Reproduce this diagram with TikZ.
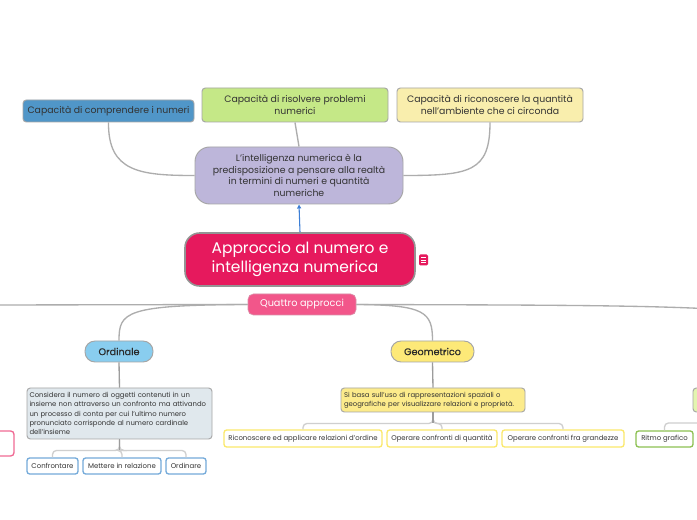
\documentclass[tikz,border=0pt]{standalone}
\usepackage{fontspec}
\setmainfont{Poppins}
\newfontfamily\medfont{Poppins}[FakeBold=0.6]
\usetikzlibrary{calc,arrows.meta}
\definecolor{txt}{HTML}{333333}
\definecolor{bord}{HTML}{A5A5A5}
\definecolor{conng}{HTML}{ADADAD}
\definecolor{brk}{HTML}{CFCFCF}
\definecolor{cA}{HTML}{5096C8}
\definecolor{cB}{HTML}{C5E887}
\definecolor{cC}{HTML}{F9EEAD}
\definecolor{cD}{HTML}{BDB6DA}
\definecolor{cMain}{HTML}{E6195D}
\definecolor{cQ}{HTML}{F2568A}
\definecolor{cOrd}{HTML}{89CDEF}
\definecolor{cOrdD}{HTML}{E0E8ED}
\definecolor{cGeo}{HTML}{FDE978}
\definecolor{cGeoD}{HTML}{FCEB8B}
\definecolor{bBlue}{HTML}{74AADA}
\definecolor{bYel}{HTML}{FBE86A}
\definecolor{bGreen}{HTML}{8DC152}
\definecolor{bPink}{HTML}{F06A94}
\definecolor{cGreenD}{HTML}{E3F5B0}
\definecolor{arr}{HTML}{3C7FD6}
\begin{document}
\begin{tikzpicture}[x=0.75pt,y=-0.75pt,
  box/.style 2 args={draw=bord, line width=0.7pt, rounded corners=2.5pt,
    minimum width=#1*0.75pt, minimum height=#2*0.75pt, inner sep=0pt, text=txt},
  topfont/.style={font=\fontsize{7}{9}\selectfont},
  smallfont/.style={font=\fontsize{5.15}{7}\selectfont},
  conn/.style={draw=conng, line width=1pt},
  stem/.style={draw=conng!90!black, line width=1pt},
  bracket/.style={draw=brk, line width=1pt, rounded corners=3pt},
  child/.style 2 args={draw=#2, fill=white, line width=1pt, rounded corners=2pt,
    minimum width=#1*0.75pt, minimum height=16*0.75pt, inner sep=0pt, text=txt,
    font=\fontsize{5.2}{7}\selectfont},
  pill/.style n args={3}{draw=bord, line width=0.7pt, fill=#3, rounded corners=7.5pt,
    minimum width=#1*0.75pt, minimum height=#2*0.75pt, inner sep=0pt, text=txt!80!black,
    font=\medfont\fontsize{7.2}{9}\selectfont}
]
\useasboundingbox (0,0) rectangle (697,520);
\clip (0,0) rectangle (697,520);
\fill[white] (0,0) rectangle (697,520);

% top nodes
\node[box={171}{22}, fill=cA, topfont] (A) at (108.5,111) {Capacità di comprendere i numeri};
\node[box={186}{34}, fill=cB, topfont, align=center] (B) at (295,105) {Capacità di risolvere problemi\\numerici};
\node[box={186}{34}, fill=cC, topfont, align=center] (C) at (490,105) {Capacità di riconoscere la quantità\\nell'ambiente che ci circonda};
\node[box={208}{57}, fill=cD, rounded corners=11pt, align=center,
  font=\fontsize{7}{8.6}\selectfont] (D) at (299,175.5)
  {L'intelligenza numerica è la\\predisposizione a pensare alla realtà\\in termini di numeri e quantità\\numeriche};

\draw[conn] (A.south) .. controls (108,172) and (140,175.5) .. (D.west);
\draw[conn] (B.south) -- (D.north);
\draw[conn] (C.south) .. controls (490,172) and (470,175.5) .. (D.east);

% main
\node[box={230}{53}, fill=cMain, draw=bord!90!black, line width=1.2pt, rounded corners=11pt,
  text=white, align=left, font=\fontsize{11.6}{14.5}\selectfont] (M) at (300,259.5)
  {Approccio al numero e\\intelligenza numerica};
\draw[arr, line width=0.8pt, -{Triangle[length=3pt,width=3pt]}] (M.north) -- (D.south);

\node[fill=cMain, rounded corners=1pt, minimum width=9*0.75pt, minimum height=11*0.75pt, inner sep=0pt] (icon) at (423.5,260) {};
\foreach \dy in {-2.5,0,2.5}
  \draw[white, line width=0.6pt] ($(icon.center)+(-2.5,\dy)$) -- ++(5,0);

% Quattro approcci
\node[draw=cQ!80!black!60, line width=0.5pt, fill=cQ, rounded corners=4pt, minimum width=108*0.75pt,
  minimum height=21*0.75pt, inner sep=0pt, text=white, font=\fontsize{7.3}{9}\selectfont] (Q) at (302,304.5) {Quattro approcci};
\coordinate (Lend) at (-5,305);
\coordinate (Rend) at (712,309);
\draw[conn] (Q.west) -- (Lend);
\draw[conn] (Q.east) .. controls (520,305) and (640,305) .. (Rend);

% Ordinale
\node[pill={68}{21}{cOrd}] (O) at (119,351.5) {Ordinale};
\draw[conn] (Q.west) .. controls (125,305) and (119,312) .. (O.north);
\node[box={185}{51}, fill=cOrdD, smallfont, text width=180*0.75pt, align=left] (OD) at (119.5,413.5)
  {Considera il numero di oggetti contenuti in un\\insieme non attraverso un confronto ma attivando\\un processo di conta per cui l'ultimo numero\\pronunciato corrisponde al numero cardinale\\dell'insieme};
\draw[stem] (O.south) -- (OD.north);
\node[child={51}{bBlue}] (c1) at (52.5,466) {Confrontare};
\node[child={78}{bBlue}] (c2) at (122,466) {Mettere in relazione};
\node[child={40}{bBlue}] (c3) at (186,466) {Ordinare};
\draw[bracket] (OD.south) -- ++(0,11) -| (c1.north);
\draw[bracket] (OD.south) -- ++(0,11) -| (c3.north);
\draw[bracket] (OD.south) -- ++(0,11) -| (c2.north);
\draw[stem] (OD.south) -- ++(0,11);

% partial pink (left)
\node[draw=bPink, fill=white, line width=1pt, rounded corners=2.5pt, minimum width=34*0.75pt,
  minimum height=25*0.75pt, inner sep=0pt] (P) at (-3,443.5) {};

% Geometrico
\node[pill={83}{21}{cGeo}] (G) at (432.5,351.5) {Geometrico};
\draw[conn] (Q.east) .. controls (425,305) and (432.5,312) .. (G.north);
\node[box={184}{24}, fill=cGeoD, smallfont, text width=178*0.75pt, align=left] (GD) at (433,400)
  {Si basa sull'uso di rappresentazioni spaziali o\\geografiche per visualizzare relazioni e proprietà.};
\draw[stem] (G.south) -- (GD.north);
\node[child={158}{bYel}, minimum height=17*0.75pt] (g1) at (303,438.5) {Riconoscere ed applicare relazioni d'ordine};
\node[child={110}{bYel}, minimum height=17*0.75pt] (g2) at (442,438.5) {Operare confronti di quantità};
\node[child={122}{bYel}, minimum height=17*0.75pt] (g3) at (563,438.5) {Operare confronti fra grandezze};
\draw[bracket] (GD.south) -- ++(0,11) -| (g1.north);
\draw[bracket] (GD.south) -- ++(0,11) -| (g3.north);
\draw[bracket] (GD.south) -- ++(0,11) -| (g2.north);
\draw[stem] (GD.south) -- ++(0,11);

% right partial
\node[box={24}{24}, fill=cGreenD] (GR) at (705,400) {};
\node[child={57}{bGreen}, minimum height=16*0.75pt] (r1) at (664.5,439) {Ritmo grafico};
\coordinate (Rb) at (705,423);
\draw[bracket] (r1.north) |- (Rb);
\end{tikzpicture}
\end{document}
